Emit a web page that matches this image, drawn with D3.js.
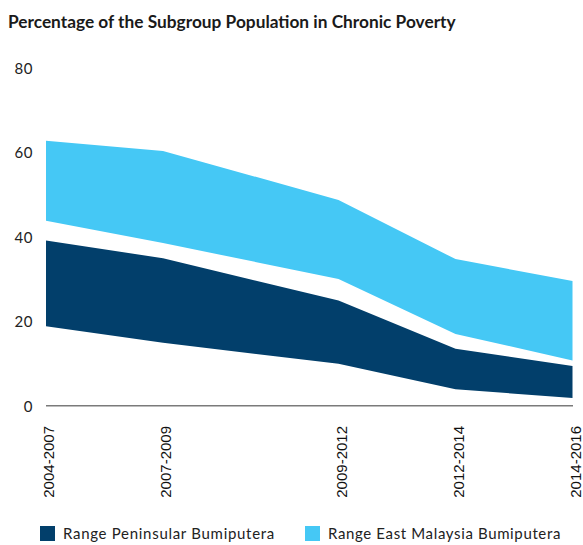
<!DOCTYPE html>
<html>
<head>
<meta charset="utf-8">
<script src="https://cdn.jsdelivr.net/npm/d3@7"></script>
<style>
  html, body { margin: 0; padding: 0; background: #fff; }
  svg { display: block; }
</style>
</head>
<body>
<svg id="chart" width="583" height="545"></svg>
<script>
// ---- Data ----
const periods = ["2004-2007", "2007-2009", "2009-2012", "2012-2014", "2014-2016"];
const periodEndYears = [2007, 2009, 2012, 2014, 2016];
const peninsularLow  = [18.8, 14.9, 9.9, 3.9, 1.8];
const peninsularHigh = [39.1, 34.9, 24.9, 13.5, 9.4];
const eastLow  = [43.8, 38.5, 30.0, 17.0, 10.7];
const eastHigh = [62.7, 60.3, 48.7, 34.7, 29.5];
const yTicks = [0, 20, 40, 60, 80];
const seriesNames = ["Range Peninsular Bumiputera", "Range East Malaysia Bumiputera"];
const title = "Percentage of the Subgroup Population in Chronic Poverty";

const colors = ["#023f6b", "#45c8f5"];

const svg = d3.select("#chart");
const x = d3.scaleLinear().domain([2007, 2016]).range([46, 572.5]);
const y = d3.scaleLinear().domain([0, 80]).range([405.7, 67.7]);

const bands = [
  periodEndYears.map((yr, i) => ({ yr, lo: peninsularLow[i], hi: peninsularHigh[i] })),
  periodEndYears.map((yr, i) => ({ yr, lo: eastLow[i], hi: eastHigh[i] }))
];

const area = d3.area()
  .x(d => x(d.yr))
  .y0(d => y(d.lo))
  .y1(d => y(d.hi));

svg.selectAll("path.band")
  .data(bands)
  .join("path")
  .attr("class", "band")
  .attr("d", area)
  .attr("fill", (d, i) => colors[i]);

// Title
const t = svg.append("text")
  .attr("x", 8)
  .attr("y", 28)
  .attr("font-family", "Lato, 'Open Sans', sans-serif")
  .attr("font-weight", "bold")
  .attr("font-size", 13.5)
  .attr("fill", "#1a1a1a")
  .text(title);
const tw = t.node().getComputedTextLength();
if (tw > 0) t.attr("font-size", 13.5 * 448 / tw);

// Y axis (labels only)
const yAxis = d3.axisLeft(y).tickValues(yTicks).tickSize(0).tickPadding(0);
const yg = svg.append("g").attr("transform", "translate(33,0)").call(yAxis);
yg.select(".domain").remove();
yg.selectAll("text")
  .attr("font-family", "Lato, 'Open Sans', sans-serif")
  .attr("font-size", 15)
  .attr("fill", "#222")
  .attr("letter-spacing", 0.5)
  .attr("dy", "0.36em");

// X axis
const xAxis = d3.axisBottom(x).tickValues(periodEndYears)
  .tickFormat((d, i) => periods[i]).tickSize(0).tickPadding(0);
const xg = svg.append("g").attr("transform", "translate(0,406)").call(xAxis);
xg.select(".domain").remove();
xg.selectAll("text")
  .attr("font-family", "'Liberation Sans', Arial, sans-serif")
  .attr("font-size", 15)
  .attr("fill", "#111")
  .attr("text-anchor", "end")
  .attr("transform", "rotate(-90)")
  .attr("x", -20)
  .attr("y", 0)
  .attr("dy", "0.5em");

svg.append("line")
  .attr("x1", 46).attr("x2", 573)
  .attr("y1", 405.7).attr("y2", 405.7)
  .attr("stroke", "#7a7a7a")
  .attr("stroke-width", 1.5);

// Legend
const legendX = [40, 305];
const legendWidths = [212, 233];
const lg = svg.append("g");
seriesNames.forEach((name, i) => {
  lg.append("rect")
    .attr("x", legendX[i]).attr("y", 526)
    .attr("width", 15).attr("height", 15)
    .attr("fill", colors[i]);
  const lt = lg.append("text")
    .attr("x", legendX[i] + 23).attr("y", 539)
    .attr("font-family", "Lato, 'Open Sans', sans-serif")
    .attr("font-size", 15)
    .attr("fill", "#222")
    .text(name);
  const w = lt.node().getComputedTextLength();
  if (w > 0) {
    const ls = (legendWidths[i] - w) / name.length;
    lt.attr("letter-spacing", Math.max(0, ls));
  }
});
</script>
</body>
</html>
